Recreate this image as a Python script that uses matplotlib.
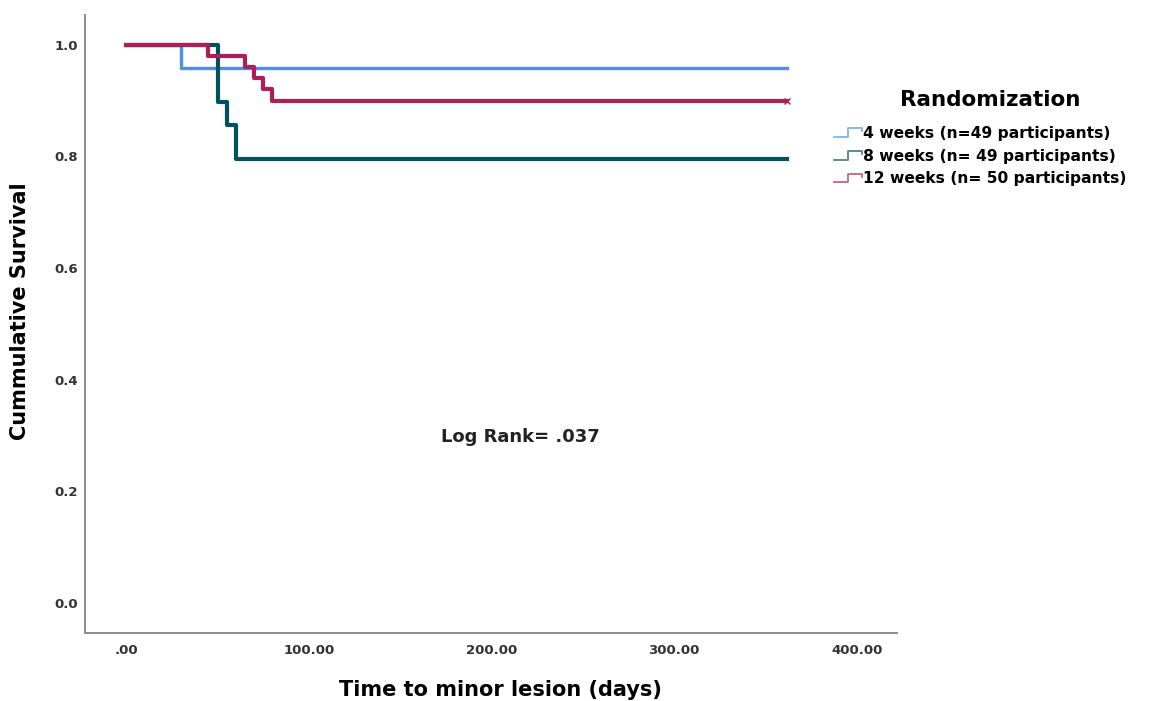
import numpy as np
import matplotlib
matplotlib.use("Agg")
import matplotlib.pyplot as plt
from matplotlib.lines import Line2D
from matplotlib.legend_handler import HandlerBase

plt.rcParams['font.family'] = ['DejaVu Sans']

# Kaplan-Meier step data (days, survival)
days_4w = [0, 30, 362]
surv_4w = [1.0, 0.959, 0.959]

days_8w = [0, 50, 55, 60, 362]
surv_8w = [1.0, 0.898, 0.857, 0.796, 0.796]

days_12w = [0, 45, 65, 70, 75, 80, 362]
surv_12w = [1.0, 0.98, 0.96, 0.94, 0.92, 0.90, 0.90]

labels = ['4 weeks (n=49 participants)',
          '8 weeks (n= 49 participants)',
          '12 weeks (n= 50 participants)']
colors = ['#4f8fe6', '#00535d', '#ac1f59']

xticks = [0, 100, 200, 300, 400]
xticklabels = ['.00', '100.00', '200.00', '300.00', '400.00']
yticks = [0.0, 0.2, 0.4, 0.6, 0.8, 1.0]
yticklabels = ['0.0', '0.2', '0.4', '0.6', '0.8', '1.0']


# legend handle drawn as a little step, like SPSS does
class StepHandler(HandlerBase):
    def create_artists(self, legend, orig_handle, xdescent, ydescent,
                       width, height, fontsize, trans):
        x0 = -xdescent
        y0 = -ydescent
        xs = [x0, x0 + width * 0.5, x0 + width * 0.5, x0 + width, x0 + width]
        ys = [y0 + height * 0.1, y0 + height * 0.1, y0 + height * 0.9,
              y0 + height * 0.9, y0 + height * 0.6]
        ln = Line2D(xs, ys, color=orig_handle.get_color(), lw=1.3, alpha=0.7,
                    transform=trans)
        return [ln]


fig = plt.figure(figsize=(11.5, 7.01), dpi=100)
ax = fig.add_axes([0.074, 0.097, 0.706, 0.882])

series = [(days_4w, surv_4w), (days_8w, surv_8w), (days_12w, surv_12w)]
widths = [2.4, 3.0, 3.0]
handles = []
for (d, s), c, lab, w in zip(series, colors, labels, widths):
    h, = ax.step(d, s, where='post', color=c, lw=w, label=lab)
    handles.append(h)

# censor tick at the end of the 12-week curve
ax.plot([days_12w[-1]], [surv_12w[-1]], marker='x', ms=4, color=colors[2], mew=1)

ax.set_xlim(-22.5, 422)
ax.set_ylim(-0.054, 1.054)
ax.set_xticks(xticks)
ax.set_xticklabels(xticklabels, fontsize=9.5, fontweight='bold', color='#333333')
ax.set_yticks(yticks)
ax.set_yticklabels(yticklabels, fontsize=9.5, fontweight='bold', color='#333333')
ax.tick_params(length=0)
ax.tick_params(axis='y', pad=5)
ax.tick_params(axis='x', pad=8)

for sp in ['top', 'right']:
    ax.spines[sp].set_visible(False)
for sp in ['left', 'bottom']:
    ax.spines[sp].set_color('#8c8c8c')
    ax.spines[sp].set_linewidth(1.4)

ax.set_xlabel('Time to minor lesion (days)', fontsize=15, fontweight='bold')
ax.set_ylabel('Cummulative Survival', fontsize=15, fontweight='bold')
ax.xaxis.set_label_coords(0.512, -0.076)
ax.yaxis.set_label_coords(-0.068, 0.52)

ax.text(0.536, 0.317, 'Log Rank= .037', transform=ax.transAxes, ha='center',
        va='center', fontsize=13, fontweight='bold', color='#222222')

# legend title as its own text, the gap under it is wider than matplotlib's
fig.text(990 / 1150, 1 - 100 / 701, 'Randomization', ha='center', va='center',
         fontsize=15.5, fontweight='bold')
leg = fig.legend(handles=handles, labels=labels, loc='upper left',
                 bbox_to_anchor=(0.7154, 1 - 115 / 701), frameon=False,
                 handler_map={Line2D: StepHandler()},
                 prop={'weight': 'bold', 'size': 11.2}, handlelength=1.8,
                 handletextpad=0.1, labelspacing=0.5, borderpad=0.2)

fig.savefig('out.png', dpi=100)
